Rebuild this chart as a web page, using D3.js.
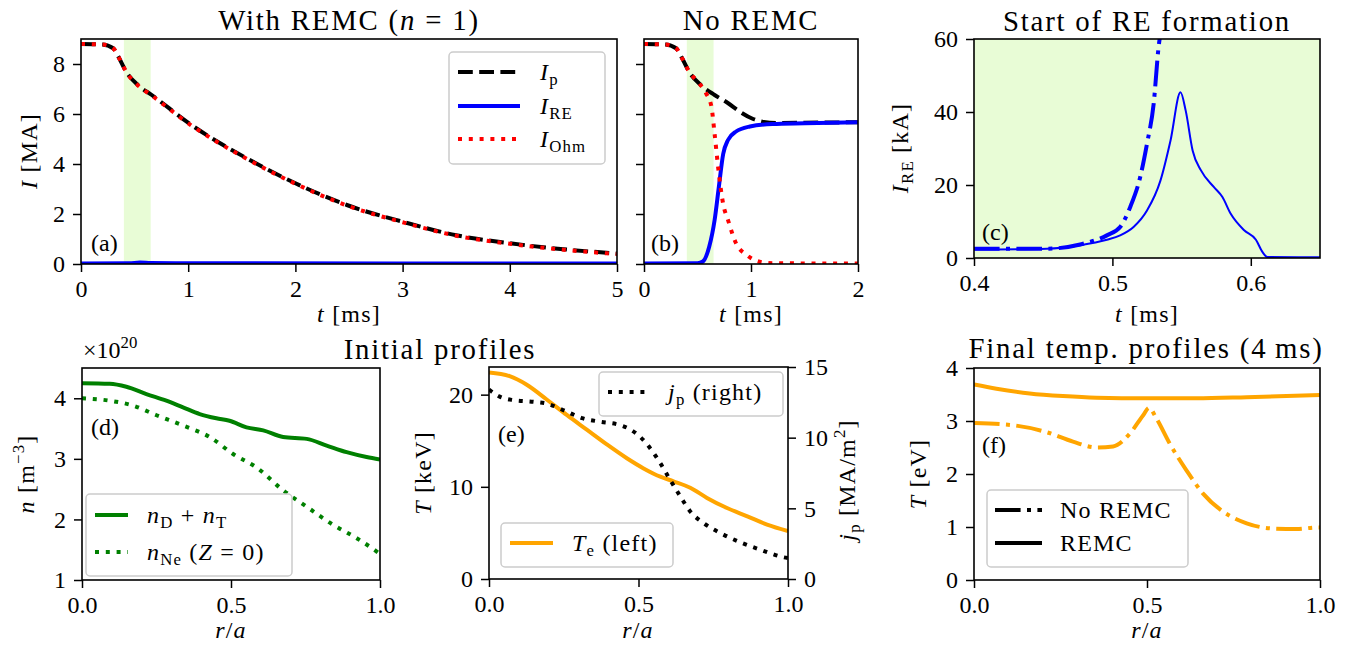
<!DOCTYPE html>
<html lang="en">
<head>
<meta charset="UTF-8" />
<title>RE current with and without REMC</title>
<script src="https://d3js.org/d3.v7.min.js"></script>
</head>
<body style="margin: 0; background: #fff;">
<div id="chart"></div>
<script>
// ---- data ----
// (a) with REMC: t [ms], I [MA]
const tA_ip = [0, 0.2, 0.3, 0.36, 0.42, 0.53, 0.66, 1.03, 1.52, 2.0, 2.48, 3.0, 3.5, 4.0, 4.5, 5.0]
const ipA = [8.8, 8.78, 8.63, 8.2, 7.7, 7.16, 6.76, 5.56, 4.29, 3.23, 2.36, 1.69, 1.15, 0.83, 0.59, 0.42]
const ohmA = [8.8, 8.78, 8.63, 8.2, 7.7, 7.15, 6.74, 5.54, 4.27, 3.21, 2.34, 1.67, 1.13, 0.81, 0.57, 0.4]
const tA_re = [0, 0.45, 0.55, 0.65, 1.0, 5.0]
const ireA = [0.02, 0.03, 0.06, 0.04, 0.03, 0.02]

// (b) no REMC
const tB_ip = [0, 0.2, 0.3, 0.36, 0.42, 0.53, 0.66, 0.78, 0.9, 1.02, 1.12, 1.25, 1.5, 2.0]
const ipB = [8.8, 8.78, 8.63, 8.2, 7.7, 7.16, 6.76, 6.45, 6.08, 5.8, 5.68, 5.64, 5.65, 5.67]
const tB_re = [0, 0.5, 0.55, 0.61, 0.66, 0.7, 0.74, 0.785, 0.86, 0.99, 1.2, 1.5, 2.0]
const ireB = [0.02, 0.03, 0.1, 0.7, 1.76, 3.1, 4.4, 4.96, 5.3, 5.5, 5.6, 5.63, 5.67]
const tB_ohm = [0, 0.2, 0.3, 0.36, 0.42, 0.5, 0.58, 0.63, 0.66, 0.7, 0.74, 0.785, 0.86, 0.96, 1.08, 1.2, 2.0]
const ohmB = [8.8, 8.78, 8.63, 8.2, 7.7, 7.3, 6.83, 6.3, 5.2, 3.6, 2.4, 1.76, 0.83, 0.36, 0.09, 0.03, 0.02]

// (c) start of RE formation: t [ms], I_RE [kA]
const tC_remc = [0.4, 0.4525, 0.4767, 0.496, 0.5056, 0.5153, 0.525, 0.5347, 0.542, 0.5492, 0.553, 0.558, 0.564, 0.5734, 0.5795, 0.5855, 0.5952, 0.6037, 0.6085, 0.612, 0.65]
const ireC_remc = [2.3, 2.55, 3.5, 5.0, 6.2, 8.5, 13, 21.2, 32.2, 45.4, 40.3, 29.4, 24, 19.4, 16.7, 12.1, 7.6, 5.0, 1.6, 0.27, 0.2]
const tC_no = [0.4, 0.4525, 0.4767, 0.496, 0.5056, 0.5129, 0.5201, 0.525, 0.5298, 0.5335, 0.5345]
const ireC_no = [2.55, 2.55, 3.7, 6.2, 8.5, 14, 22.2, 31.3, 42.2, 58.2, 61]

// (d) initial densities, r/a and 1e20 m^-3
const rD_dt = [0, 0.093, 0.149, 0.216, 0.283, 0.339, 0.395, 0.451, 0.495, 0.552, 0.608, 0.675, 0.754, 0.821, 0.888, 0.955, 1.0]
const nDT = [4.25, 4.24, 4.19, 4.07, 3.96, 3.85, 3.74, 3.67, 3.63, 3.52, 3.47, 3.36, 3.33, 3.22, 3.11, 3.03, 2.99]
const rD_ne = [0, 0.093, 0.171, 0.25, 0.339, 0.429, 0.507, 0.585, 0.675, 0.754, 0.843, 0.922, 0.989, 1.0]
const nNe = [4.0, 3.96, 3.88, 3.72, 3.55, 3.36, 3.08, 2.86, 2.48, 2.21, 1.91, 1.69, 1.47, 1.43]

// (e) initial Te [keV] and j_p [MA/m^2]
const rE_te = [0, 0.069, 0.125, 0.192, 0.26, 0.327, 0.394, 0.461, 0.517, 0.573, 0.617, 0.673, 0.729, 0.796, 0.864, 0.93, 1.0]
const te = [22.4, 22.0, 21.1, 19.5, 17.8, 16.2, 14.6, 13.1, 12.0, 11.1, 10.6, 9.9, 8.8, 7.7, 6.8, 5.9, 5.2]
const rE_jp = [0, 0.036, 0.08, 0.148, 0.192, 0.26, 0.315, 0.371, 0.438, 0.472, 0.505, 0.539, 0.573, 0.606, 0.64, 0.673, 0.718, 0.774, 0.841, 0.908, 0.987, 1.0]
const jp = [13.4, 12.9, 12.66, 12.54, 12.42, 11.84, 11.36, 11.13, 10.89, 10.59, 10.07, 9.25, 8.19, 7.01, 5.84, 4.78, 3.95, 3.25, 2.59, 2.07, 1.53, 1.48]

// (f) final temperature [eV] at 4 ms
const rF_remc = [0, 0.065, 0.161, 0.257, 0.354, 0.499, 0.643, 0.788, 1.0]
const tempRemc = [3.69, 3.61, 3.52, 3.47, 3.44, 3.43, 3.43, 3.45, 3.49]
const rF_no = [0, 0.113, 0.209, 0.286, 0.354, 0.402, 0.45, 0.489, 0.506, 0.527, 0.566, 0.614, 0.662, 0.72, 0.788, 0.865, 0.932, 0.99, 1.0]
const tempNo = [2.96, 2.92, 2.79, 2.61, 2.5, 2.52, 2.76, 3.11, 3.25, 3.05, 2.57, 2.07, 1.63, 1.29, 1.07, 0.97, 0.96, 0.99, 0.99]

const ticksA = [0, 1, 2, 3, 4, 5]
const ticksB = [0, 1, 2]
const ticksI = [0, 2, 4, 6, 8]
const ticksC = [0.4, 0.5, 0.6]
const ticksCy = [0, 20, 40, 60]
const ticksR = [0, 0.5, 1]
const ticksN = [1, 2, 3, 4]
const ticksT = [0, 10, 20]
const ticksJ = [0, 5, 10, 15]
const ticksTf = [0, 1, 2, 3, 4]

// ---- drawing ----
const W = 1348, H = 648
const FS = 24
const FONT = '"Liberation Serif", "Times New Roman", serif'
const band = "#e8fcd6"

const svg = d3.select("#chart").append("svg")
    .attr("width", W).attr("height", H)
    .attr("viewBox", [0, 0, W, H])
    .style("font-family", FONT)

let clipN = 0

function panel(box, xd, yd) {
    const x = d3.scaleLinear().domain(xd).range([box.l, box.r])
    const y = d3.scaleLinear().domain(yd).range([box.b, box.t])
    const id = "clip" + (clipN++)
    svg.append("clipPath").attr("id", id).append("rect")
        .attr("x", box.l).attr("y", box.t)
        .attr("width", box.r - box.l).attr("height", box.b - box.t)
    const g = svg.append("g")
    const back = g.append("g")
    const plot = g.append("g").attr("clip-path", `url(#${id})`)
    return { x, y, g, back, plot, box }
}

function styleAxis(g) {
    g.select(".domain").remove()
    g.attr("font-size", FS).attr("font-family", null)
    g.selectAll(".tick line").attr("stroke", "#000").attr("stroke-width", 1.5)
    g.selectAll(".tick text").attr("fill", "#000").style("font-family", FONT)
}

function xAxis(p, ticks, fmt) {
    p.g.append("g")
        .attr("transform", `translate(0,${p.box.b})`)
        .call(d3.axisBottom(p.x).tickValues(ticks).tickFormat(fmt).tickSize(8).tickPadding(8).tickSizeOuter(0))
        .call(styleAxis)
}

function yAxis(p, scale, ticks, fmt, right) {
    const ax = right ? d3.axisRight(scale) : d3.axisLeft(scale)
    p.g.append("g")
        .attr("transform", `translate(${right ? p.box.r : p.box.l},0)`)
        .call(ax.tickValues(ticks).tickFormat(fmt).tickSize(8).tickPadding(8).tickSizeOuter(0))
        .call(styleAxis)
}

function frame(p) {
    p.g.append("rect")
        .attr("x", p.box.l).attr("y", p.box.t)
        .attr("width", p.box.r - p.box.l).attr("height", p.box.b - p.box.t)
        .attr("fill", "none").attr("stroke", "#000").attr("stroke-width", 1.6)
}

function drawLine(p, xs, ys, color, width, dash, yScale) {
    const ys2 = yScale || p.y
    p.plot.append("path")
        .datum(xs.map((v, i) => [v, ys[i]]))
        .attr("fill", "none")
        .attr("stroke", color)
        .attr("stroke-width", width)
        .attr("stroke-dasharray", dash)
        .attr("stroke-linejoin", "round")
        .attr("d", d3.line().x(d => p.x(d[0])).y(d => ys2(d[1])).curve(d3.curveMonotoneX))
}

// text with italic / sub / superscript pieces
function rich(sel, parts, fs) {
    let shift = 0
    parts.forEach(([s, k]) => {
        const t = sel.append("tspan").text(s)
        let target = 0
        if (k === "s") { t.attr("font-size", fs * 0.7); target = fs * 0.22 }
        if (k === "S") { t.attr("font-size", fs * 0.7); target = -fs * 0.42 }
        if (k === "i") t.attr("font-style", "italic")
        if (target !== shift) { t.attr("dy", target - shift); shift = target }
    })
    return sel
}

function label(x, y, parts, opts) {
    const o = Object.assign({ fs: FS, anchor: "start", rotate: 0, ls: 0 }, opts)
    const t = svg.append("text")
        .attr("transform", `translate(${x},${y}) rotate(${o.rotate})`)
        .attr("text-anchor", o.anchor)
        .attr("font-size", o.fs)
        .attr("letter-spacing", o.ls)
        .attr("fill", "#000")
        .style("font-family", FONT)
    return rich(t, parts, o.fs)
}

function legend(rect, x1, x2, tx, items) {
    const g = svg.append("g")
    g.append("rect")
        .attr("x", rect[0]).attr("y", rect[1])
        .attr("width", rect[2] - rect[0]).attr("height", rect[3] - rect[1])
        .attr("rx", 4)
        .attr("fill", "#fff").attr("fill-opacity", 0.8)
        .attr("stroke", "#cccccc").attr("stroke-width", 1.5)
    items.forEach(it => {
        g.append("line")
            .attr("x1", x1).attr("x2", x2).attr("y1", it.y).attr("y2", it.y)
            .attr("stroke", it.color).attr("stroke-width", it.width)
            .attr("stroke-dasharray", it.dash)
        label(tx, it.y + 8, it.parts, { ls: 1.2 })
    })
}

const lw = 4
const dashed = "14.8,6.4"
const dotted = "4,6.8"
const dashdot = "25.6,6.4,4,6.4"

const tLab = [["t", "i"], [" [ms]", ""]]
const rLab = [["r", "i"], ["/", ""], ["a", "i"]]
const titleOpt = { fs: 28.8, anchor: "middle", ls: 1.8 }
const xlabOpt = { anchor: "middle", ls: 1.2 }
const ylabOpt = { anchor: "middle", rotate: -90, ls: 1.2 }

// (a)
const pA = panel({ l: 81, r: 617, t: 39, b: 264 }, [0, 5], [0, 9.0])
pA.back.append("rect").attr("x", pA.x(0.4)).attr("y", pA.box.t)
    .attr("width", pA.x(0.65) - pA.x(0.4)).attr("height", pA.box.b - pA.box.t).attr("fill", band)
drawLine(pA, tA_re, ireA, "blue", lw, null)
drawLine(pA, tA_ip, ipA, "#000", lw, dashed)
drawLine(pA, tA_ip, ohmA, "red", lw, dotted)
xAxis(pA, ticksA, d3.format("d"))
yAxis(pA, pA.y, ticksI, d3.format("d"))
frame(pA)
label(349, 30, [["With REMC (", ""], ["n", "i"], [" = 1)", ""]], titleOpt)
label(349, 322, tLab, xlabOpt)
label(37, 151, [["I", "i"], [" [MA]", ""]], ylabOpt)
label(91, 251, [["(a)", ""]])
legend([449, 52, 605, 164], 458, 520, 540, [
    { y: 72, color: "#000", width: lw, dash: dashed, parts: [["I", "i"], ["p", "s"]] },
    { y: 106, color: "blue", width: lw, dash: null, parts: [["I", "i"], ["RE", "s"]] },
    { y: 139, color: "red", width: lw, dash: dotted, parts: [["I", "i"], ["Ohm", "s"]] }
])

// (b)
const pB = panel({ l: 644, r: 858, t: 39, b: 264 }, [0, 2], [0, 9.0])
pB.back.append("rect").attr("x", pB.x(0.4)).attr("y", pB.box.t)
    .attr("width", pB.x(0.65) - pB.x(0.4)).attr("height", pB.box.b - pB.box.t).attr("fill", band)
drawLine(pB, tB_ip, ipB, "#000", lw, dashed)
drawLine(pB, tB_re, ireB, "blue", lw, null)
drawLine(pB, tB_ohm, ohmB, "red", lw, dotted)
xAxis(pB, ticksB, d3.format("d"))
yAxis(pB, pB.y, ticksI, "")
frame(pB)
label(751, 30, [["No REMC", ""]], titleOpt)
label(751, 322, tLab, xlabOpt)
label(651, 251, [["(b)", ""]])

// (c)
const pC = panel({ l: 974, r: 1320, t: 39, b: 258 }, [0.4, 0.65], [0, 60])
pC.back.append("rect").attr("x", pC.box.l).attr("y", pC.box.t)
    .attr("width", pC.box.r - pC.box.l).attr("height", pC.box.b - pC.box.t).attr("fill", band)
drawLine(pC, tC_no, ireC_no, "blue", lw, dashdot)
drawLine(pC, tC_remc, ireC_remc, "blue", 2, null)
xAxis(pC, ticksC, d3.format(".1f"))
yAxis(pC, pC.y, ticksCy, d3.format("d"))
frame(pC)
label(1147, 31, [["Start of RE formation", ""]], titleOpt)
label(1147, 322, tLab, xlabOpt)
label(908, 148, [["I", "i"], ["RE", "s"], [" [kA]", ""]], ylabOpt)
label(982, 240, [["(c)", ""]])

// (d)
const pD = panel({ l: 82, r: 380, t: 368, b: 580 }, [0, 1], [1, 4.5])
drawLine(pD, rD_dt, nDT, "green", lw, null)
drawLine(pD, rD_ne, nNe, "green", lw, dotted)
xAxis(pD, ticksR, d3.format(".1f"))
yAxis(pD, pD.y, ticksN, d3.format("d"))
frame(pD)
label(83, 358, [["\u00d710", ""], ["20", "S"]])
label(231, 638, rLab, xlabOpt)
label(34, 474, [["n", "i"], [" [m", ""], ["\u22123", "S"], ["]", ""]], ylabOpt)
label(91, 435, [["(d)", ""]])
legend([86, 494, 292, 576], 95, 128, 147, [
    { y: 515, color: "green", width: lw, dash: null, parts: [["n", "i"], ["D", "s"], [" + ", ""], ["n", "i"], ["T", "s"]] },
    { y: 552, color: "green", width: lw, dash: dotted, parts: [["n", "i"], ["Ne", "s"], [" (", ""], ["Z", "i"], [" = 0)", ""]] }
])
label(440, 359, [["Initial profiles", ""]], titleOpt)

// (e)
const pE = panel({ l: 489, r: 788, t: 367, b: 579 }, [0, 1], [0, 23])
const yJ = d3.scaleLinear().domain([0, 15]).range([pE.box.b, pE.box.t])
drawLine(pE, rE_te, te, "orange", lw, null)
drawLine(pE, rE_jp, jp, "#000", lw, dotted, yJ)
xAxis(pE, ticksR, d3.format(".1f"))
yAxis(pE, pE.y, ticksT, d3.format("d"))
yAxis(pE, yJ, ticksJ, d3.format("d"), true)
frame(pE)
label(638, 638, rLab, xlabOpt)
label(431, 473, [["T", "i"], [" [keV]", ""]], ylabOpt)
label(855, 480, [["j", "i"], ["p", "s"], [" [MA/m", ""], ["2", "S"], ["]", ""]], ylabOpt)
label(498, 442, [["(e)", ""]])
legend([599, 372, 783, 416], 608, 647, 668, [
    { y: 392, color: "#000", width: lw, dash: dotted, parts: [["j", "i"], ["p", "s"], [" (right)", ""]] }
])
legend([501, 523, 673, 567], 510, 553, 572, [
    { y: 543, color: "orange", width: lw, dash: null, parts: [["T", "i"], ["e", "s"], [" (left)", ""]] }
])

// (f)
const pF = panel({ l: 974, r: 1320, t: 368, b: 580 }, [0, 1], [0, 4])
drawLine(pF, rF_remc, tempRemc, "orange", lw, null)
drawLine(pF, rF_no, tempNo, "orange", lw, dashdot)
xAxis(pF, ticksR, d3.format(".1f"))
yAxis(pF, pF.y, ticksTf, d3.format("d"))
frame(pF)
label(1146, 358, [["Final temp. profiles (4\u2009ms)", ""]], titleOpt)
label(1147, 638, rLab, xlabOpt)
label(926, 474, [["T", "i"], [" [eV]", ""]], ylabOpt)
label(982, 453, [["(f)", ""]])
legend([987, 490, 1188, 567], 995, 1042, 1060, [
    { y: 510, color: "#000", width: lw, dash: dashdot, parts: [["No REMC", ""]] },
    { y: 543, color: "#000", width: lw, dash: null, parts: [["REMC", ""]] }
])
</script>
</body>
</html>
